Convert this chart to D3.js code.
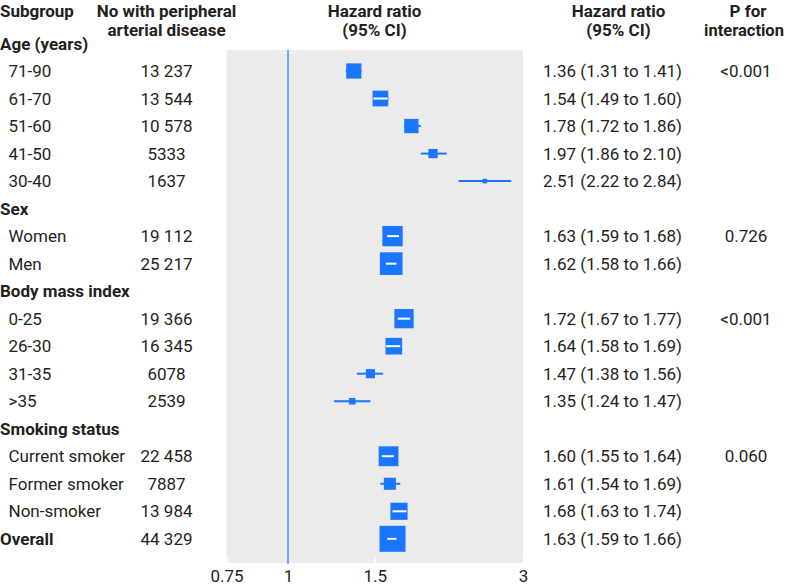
<!DOCTYPE html>
<html>
<head>
<meta charset="utf-8">
<script src="https://cdn.jsdelivr.net/npm/d3@7"></script>
<style>
  body { margin: 0; background: #fff; }
  svg { display: block; font-family: Roboto, "Noto Sans", sans-serif; }
</style>
</head>
<body>
<svg id="chart" width="787" height="587"></svg>
<script>
// ---- data ----
const labels = ["Age (years)", "71-90", "61-70", "51-60", "41-50", "30-40",
  "Sex", "Women", "Men",
  "Body mass index", "0-25", "26-30", "31-35", ">35",
  "Smoking status", "Current smoker", "Former smoker", "Non-smoker",
  "Overall"];
const rowKind = ["group", "item", "item", "item", "item", "item",
  "group", "item", "item",
  "group", "item", "item", "item", "item",
  "group", "item", "item", "item",
  "overall"];
const counts = [null, "13 237", "13 544", "10 578", "5333", "1637",
  null, "19 112", "25 217",
  null, "19 366", "16 345", "6078", "2539",
  null, "22 458", "7887", "13 984",
  "44 329"];
const hr = [null, 1.36, 1.54, 1.78, 1.97, 2.51,
  null, 1.63, 1.62,
  null, 1.72, 1.64, 1.47, 1.35,
  null, 1.60, 1.61, 1.68,
  1.63];
const ciLow = [null, 1.31, 1.49, 1.72, 1.86, 2.22,
  null, 1.59, 1.58,
  null, 1.67, 1.58, 1.38, 1.24,
  null, 1.55, 1.54, 1.63,
  1.59];
const ciHigh = [null, 1.41, 1.60, 1.86, 2.10, 2.84,
  null, 1.68, 1.66,
  null, 1.77, 1.69, 1.56, 1.47,
  null, 1.64, 1.69, 1.74,
  1.66];
const pInteraction = [null, "<0.001", null, null, null, null,
  null, "0.726", null,
  null, "<0.001", null, null, null,
  null, "0.060", null, null,
  null];
const axisTicks = [0.75, 1, 1.5, 3];

// ---- layout ----
const blue = "#1a75ff";
const textCol = "#231f20";
const svg = d3.select("#chart");
const panel = { x0: 226.5, x1: 523, y0: 50, y1: 563 };

const x = d3.scaleLog().domain([0.75, 3]).range([panel.x0, panel.x1]);
const y = d3.scaleLinear().domain([0, labels.length - 1]).range([43.5, 538.8]);
// box side proportional to precision (1 / log CI width)
const boxSize = d3.scaleLinear().domain([0, 1]).range([0, 1.12]);

// panel background
svg.append("rect")
  .attr("x", panel.x0).attr("y", panel.y0)
  .attr("width", panel.x1 - panel.x0).attr("height", panel.y1 - panel.y0)
  .attr("fill", "#ebebeb");

// axis
const axis = d3.axisBottom(x)
  .tickValues(axisTicks)
  .tickFormat(d3.format(""))
  .tickSizeInner(-6).tickSizeOuter(0)
  .tickPadding(7);
const gAxis = svg.append("g")
  .attr("transform", `translate(0,${panel.y1})`)
  .call(axis);
gAxis.select(".domain").remove();
gAxis.selectAll(".tick line").attr("stroke", "#fff").attr("stroke-width", 1.2);
gAxis.selectAll(".tick text")
  .attr("fill", textCol)
  .style("font-family", "Roboto, sans-serif")
  .style("font-size", "17px");

// reference line at 1
svg.append("line")
  .attr("x1", x(1)).attr("x2", x(1))
  .attr("y1", panel.y0).attr("y2", panel.y1 + 1)
  .attr("stroke", "#3a86ff").attr("stroke-width", 1.4);

// headers
const hdr = svg.append("g").attr("fill", textCol)
  .style("font-size", "17px").style("font-weight", "bold");
hdr.append("text").attr("x", 0).attr("y", 17).text("Subgroup");
hdr.append("text").attr("x", 166.5).attr("y", 17).attr("text-anchor", "middle").text("No with peripheral");
hdr.append("text").attr("x", 166.5).attr("y", 36).attr("text-anchor", "middle").text("arterial disease");
hdr.append("text").attr("x", 374.5).attr("y", 17).attr("text-anchor", "middle").text("Hazard ratio");
hdr.append("text").attr("x", 374.5).attr("y", 36).attr("text-anchor", "middle").text("(95% CI)");
hdr.append("text").attr("x", 618.5).attr("y", 17).attr("text-anchor", "middle").text("Hazard ratio");
hdr.append("text").attr("x", 618.5).attr("y", 36).attr("text-anchor", "middle").text("(95% CI)");
hdr.append("text").attr("x", 748).attr("y", 17).attr("text-anchor", "middle").text("P for");
hdr.append("text").attr("x", 744).attr("y", 36).attr("text-anchor", "middle")
  .style("font-size", "16.5px").text("interaction");

const rows = labels.map((l, i) => ({
  i, label: l, kind: rowKind[i], n: counts[i], hr: hr[i], lo: ciLow[i], hi: ciHigh[i], p: pInteraction[i]
}));

const tg = svg.append("g").attr("fill", textCol).style("font-size", "17px");
const base = 6;

// labels
tg.selectAll("text.lab").data(rows).join("text")
  .attr("class", "lab")
  .attr("x", d => d.kind === "item" ? 8.5 : 0)
  .attr("y", d => y(d.i) + base)
  .style("font-weight", d => d.kind === "item" ? "normal" : "bold")
  .text(d => d.label);

// counts
tg.selectAll("text.n").data(rows.filter(d => d.n)).join("text")
  .attr("class", "n")
  .attr("x", 166.5).attr("text-anchor", "middle")
  .attr("y", d => y(d.i) + base)
  .text(d => d.n);

// HR text
const f2 = d3.format(".2f");
tg.selectAll("text.hr").data(rows.filter(d => d.hr != null)).join("text")
  .attr("class", "hr")
  .attr("x", 543)
  .attr("y", d => y(d.i) + base)
  .text(d => `${f2(d.hr)} (${f2(d.lo)} to ${f2(d.hi)})`);

// P for interaction
tg.selectAll("text.p").data(rows.filter(d => d.p)).join("text")
  .attr("class", "p")
  .attr("x", 746).attr("text-anchor", "middle")
  .attr("y", d => y(d.i) + base)
  .text(d => d.p);

// marks
const est = rows.filter(d => d.hr != null);
const mg = svg.append("g");
est.forEach(d => {
  const cy = y(d.i);
  const s = boxSize(1 / Math.log(d.hi / d.lo));
  const cx = x(d.hr);
  const xl = x(d.lo), xh = x(d.hi);
  const bl = cx - s / 2, br = cx + s / 2;
  mg.append("line")
    .attr("x1", xl).attr("x2", xh).attr("y1", cy).attr("y2", cy)
    .attr("stroke", blue).attr("stroke-width", 2);
  mg.append("rect")
    .attr("x", bl).attr("y", cy - s / 2)
    .attr("width", s).attr("height", s)
    .attr("fill", blue);
  if (xh - xl < s) {
    mg.append("line")
      .attr("x1", Math.max(xl, bl + 0.5)).attr("x2", Math.min(xh, br - 0.5))
      .attr("y1", cy).attr("y2", cy)
      .attr("stroke", "#fff").attr("stroke-width", 2);
  }
});
</script>
</body>
</html>
